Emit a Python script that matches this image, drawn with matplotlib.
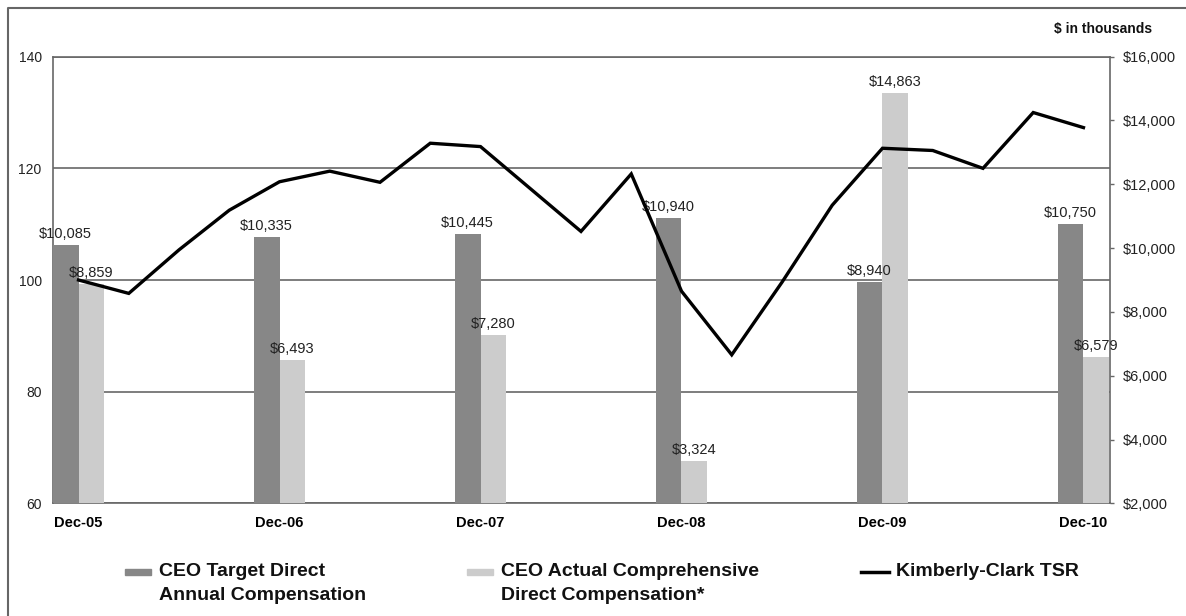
#!/usr/bin/env python3
"""CEO compensation vs Kimberly-Clark TSR chart."""

import matplotlib
matplotlib.use('Agg')
import matplotlib.pyplot as plt
from matplotlib.lines import Line2D
from matplotlib.patches import Rectangle
from matplotlib.ticker import FuncFormatter
import numpy as np

plt.rcParams['font.family'] = ['Liberation Sans', 'DejaVu Sans']

# Data
years = ['Dec-05', 'Dec-06', 'Dec-07', 'Dec-08', 'Dec-09', 'Dec-10']
target_comp = [10085, 10335, 10445, 10940, 8940, 10750]
actual_comp = [8859, 6493, 7280, 3324, 14863, 6579]
# quarterly TSR, Dec-05 .. Dec-10
tsr = [100, 97.6, 105.4, 112.5, 117.6, 119.5, 117.5, 124.5, 123.9, 116.3, 108.7,
       119.0, 98.0, 86.6, 99.6, 113.4, 123.6, 123.2, 120.0, 130.0, 127.3]
tsr_ticks = [60, 80, 100, 120, 140]
usd_ticks = [2000, 4000, 6000, 8000, 10000, 12000, 14000, 16000]

DARK = '#878787'
LIGHT = '#cccccc'
GRID = '#676767'

W, H = 1186, 616
fig = plt.figure(figsize=(W / 100, H / 100), dpi=100)
rect = [52.8 / W, 1 - 503.3 / H, (1110 - 52.8) / W, (503.3 - 56.7) / H]

# bottom layer: TSR scale + gridlines
ax = fig.add_axes(rect)
ax.set_ylim(60, 140)
ax.set_yticks(tsr_ticks)
ax.yaxis.grid(True, color=GRID, lw=1.2)
ax.tick_params(axis='y', length=0, pad=8, labelsize=10, labelcolor='#222222')
ax.set_xlim(-0.128, 5.132)
x = np.arange(len(years))
ax.set_xticks(x)
ax.set_xticklabels(years, fontweight='bold', fontsize=10.5)
ax.tick_params(axis='x', length=0, pad=9)
for s in ax.spines.values():
    s.set_color(GRID)
    s.set_linewidth(1.2)

# middle layer: bars on $ scale
axb = ax.twinx()
bw = 0.128
axb.bar(x - bw / 2, target_comp, width=bw, color=DARK, zorder=2)
axb.bar(x + bw / 2, actual_comp, width=bw, color=LIGHT, zorder=2)
axb.set_ylim(2000, 16000)
axb.set_yticks(usd_ticks)
axb.yaxis.set_major_formatter(FuncFormatter(lambda v, p: f'${v:,.0f}'))
axb.tick_params(axis='y', length=3, width=1, color=GRID, pad=6, labelsize=10.5,
                labelcolor='#222222')
for s in axb.spines.values():
    s.set_visible(False)

for xi, v in zip(x, target_comp):
    axb.annotate(f'${v:,}', (xi - bw / 2, v), xytext=(0, 3), textcoords='offset points',
                 ha='center', va='bottom', fontsize=10.5, color='#222222')
for xi, v in zip(x, actual_comp):
    axb.annotate(f'${v:,}', (xi + bw / 2, v), xytext=(0, 3), textcoords='offset points',
                 ha='center', va='bottom', fontsize=10.5, color='#222222')

# top layer: TSR line
axl = ax.twinx()
axl.set_ylim(60, 140)
axl.plot(np.arange(len(tsr)) / 4, tsr, color='black', lw=2.4, solid_joinstyle='miter')
axl.yaxis.set_visible(False)
for s in axl.spines.values():
    s.set_visible(False)

fig.text(1152 / W, 1 - 29 / H, '$ in thousands', ha='right', va='center',
         fontsize=10, fontweight='bold', color='#111111')

# legend, drawn by hand to follow the original spacing
def fy(py):
    return 1 - py / H

leg_kw = dict(fontsize=14, fontweight='bold', va='center', ha='left',
              color='#111111', linespacing=1.25)
fig.patches.append(Rectangle((125 / W, fy(575)), 26 / W, 6 / H, color=DARK,
                             transform=fig.transFigure))
fig.text(159 / W, fy(572), 'CEO Target Direct', **leg_kw)
fig.text(159 / W, fy(595), 'Annual Compensation', **leg_kw)
fig.patches.append(Rectangle((467 / W, fy(575)), 26 / W, 6 / H, color=LIGHT,
                             transform=fig.transFigure))
fig.text(501 / W, fy(572), 'CEO Actual Comprehensive', **leg_kw)
fig.text(501 / W, fy(595), 'Direct Compensation*', **leg_kw)
fig.lines.append(Line2D([861 / W, 889 / W], [fy(572), fy(572)], color='black', lw=2.5,
                        transform=fig.transFigure))
fig.text(896 / W, fy(572), 'Kimberly-Clark TSR', **leg_kw)

# outer frame (left and top edges)
fig.lines.append(Line2D([8 / W, 8 / W, 1.0], [0.0, fy(8), fy(8)], color='#666666',
                        lw=1.5, transform=fig.transFigure))

fig.savefig('out.png', dpi=100)
print("Saved: out.png")
